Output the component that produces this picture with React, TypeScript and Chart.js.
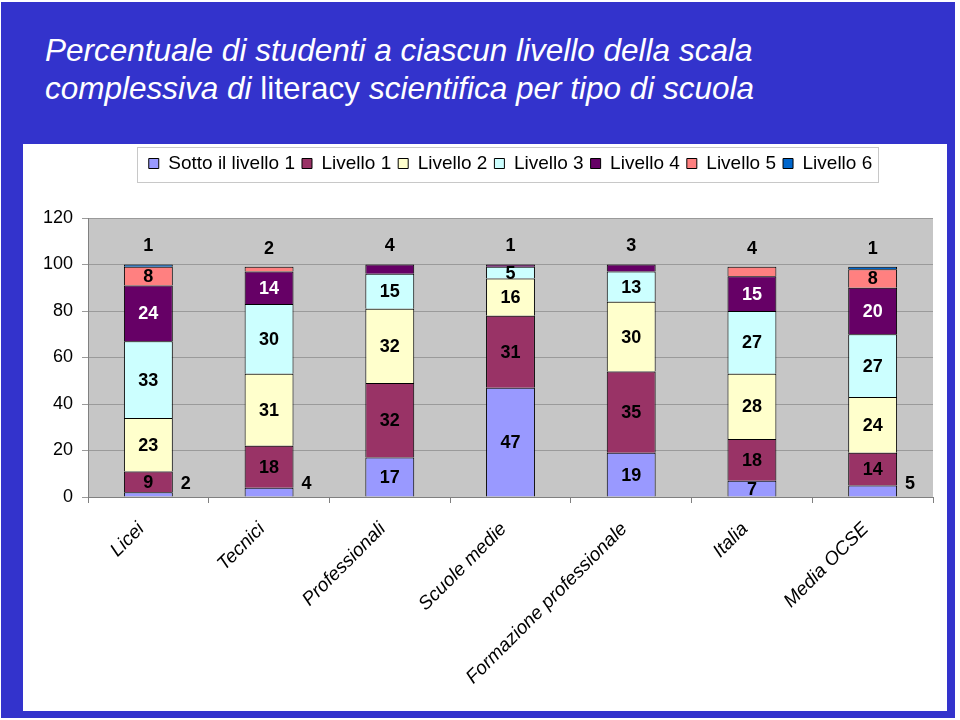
import React, { useEffect, useRef } from "react";
import { Chart, registerables } from "chart.js";

Chart.register(...registerables);

const categories = [
  "Licei",
  "Tecnici",
  "Professionali",
  "Scuole medie",
  "Formazione professionale",
  "Italia",
  "Media OCSE",
];

const seriesNames = [
  "Sotto il livello 1",
  "Livello 1",
  "Livello 2",
  "Livello 3",
  "Livello 4",
  "Livello 5",
  "Livello 6",
];

const sottoLivello1 = [2, 4, 17, 47, 19, 7, 5];
const livello1 = [9, 18, 32, 31, 35, 18, 14];
const livello2 = [23, 31, 32, 16, 30, 28, 24];
const livello3 = [33, 30, 15, 5, 13, 27, 27];
const livello4 = [24, 14, 4, 1, 3, 15, 20];
const livello5 = [8, 2, 0, 0, 0, 4, 8];
const livello6 = [1, 0, 0, 0, 0, 0, 1];

const seriesValues = [sottoLivello1, livello1, livello2, livello3, livello4, livello5, livello6];
const seriesColors = ["#9999FF", "#993366", "#FFFFCC", "#CCFFFF", "#660066", "#FF8080", "#0066CC"];
const labelColors = ["#000", "#000", "#000", "#000", "#fff", "#000", "#fff"];

const FONT = '"Liberation Sans", Arial, Helvetica, sans-serif';

const plotBackground = {
  id: "plotBackground",
  beforeDraw(chart: any) {
    const { ctx, chartArea } = chart;
    ctx.save();
    ctx.fillStyle = "#C6C6C6";
    ctx.fillRect(chartArea.left, chartArea.top, chartArea.right - chartArea.left, chartArea.bottom - chartArea.top);
    ctx.restore();
  },
};

const legendFrame = {
  id: "legendFrame",
  afterDraw(chart: any) {
    const lg = chart.legend;
    if (!lg || !lg.legendHitBoxes || !lg.legendHitBoxes.length) return;
    const hb = lg.legendHitBoxes;
    const last = hb[hb.length - 1];
    const left = Math.round(hb[0].left - 12);
    const right = Math.round(last.left + last.width + 6);
    const ctx = chart.ctx;
    ctx.save();
    ctx.strokeStyle = "#C8C8C8";
    ctx.lineWidth = 1;
    ctx.strokeRect(left + 0.5, Math.round(lg.top) + 0.5, right - left, Math.round(lg.height) - 1);
    ctx.restore();
  },
};

const valueLabels = {
  id: "valueLabels",
  afterDatasetsDraw(chart: any) {
    const ctx = chart.ctx;
    const dsets = chart.data.datasets;
    ctx.save();
    ctx.font = `bold 18px ${FONT}`;
    ctx.textBaseline = "middle";
    for (let i = 0; i < categories.length; i++) {
      let top = -1;
      for (let d = dsets.length - 1; d >= 0; d--) {
        if (dsets[d].data[i] > 0) {
          top = d;
          break;
        }
      }
      for (let d = 0; d < dsets.length; d++) {
        const v = dsets[d].data[i];
        if (!v) continue;
        const el = chart.getDatasetMeta(d).data[i];
        const p = el.getProps(["x", "y", "base", "width"], true);
        const text = String(v);
        if (d === 0 && v <= 5) {
          ctx.fillStyle = "#000";
          ctx.textAlign = "left";
          ctx.fillText(text, p.x + p.width / 2 + 8, p.base - 12);
        } else if (d === top && v <= 5) {
          ctx.fillStyle = "#000";
          ctx.textAlign = "center";
          ctx.fillText(text, p.x, p.y - 18);
        } else {
          ctx.fillStyle = labelColors[d];
          ctx.textAlign = "center";
          ctx.fillText(text, p.x, (p.y + p.base) / 2 + 1);
        }
      }
    }
    ctx.restore();
  },
};

export default function App() {
  const canvasRef = useRef<HTMLCanvasElement | null>(null);

  useEffect(() => {
    if (!canvasRef.current) return;
    const chart = new Chart(canvasRef.current, {
      type: "bar",
      data: {
        labels: categories,
        datasets: seriesNames.map((name, k) => ({
          label: name,
          data: seriesValues[k],
          backgroundColor: seriesColors[k],
          borderColor: "#000000",
          borderWidth: 1,
          barPercentage: 0.405,
          categoryPercentage: 1,
        })),
      },
      options: {
        responsive: false,
        animation: false,
        maintainAspectRatio: false,
        layout: { padding: { top: 3, left: 0, right: 14, bottom: 0 } },
        plugins: {
          legend: {
            display: true,
            position: "top",
            fullSize: false,
            weight: 3000,
            labels: {
              boxWidth: 10,
              boxHeight: 10,
              padding: 7,
              color: "#000",
              font: { family: FONT, size: 19 },
            },
          },
          title: {
            display: true,
            text: "",
            font: { size: 1, lineHeight: 1 },
            padding: { top: 0, bottom: 34 },
          },
          tooltip: { enabled: false },
        },
        scales: {
          x: {
            stacked: true,
            afterFit: (scale: any) => {
              scale.height = 214;
            },
            grid: {
              display: true,
              drawOnChartArea: false,
              drawTicks: true,
              tickLength: 6,
              color: "#808080",
              offset: true,
            },
            border: { display: true, color: "#808080" },
            ticks: {
              autoSkip: false,
              maxRotation: 45,
              minRotation: 45,
              padding: 15,
              labelOffset: -7,
              color: "#000",
              font: { family: FONT, size: 19, style: "italic" },
            },
          },
          y: {
            stacked: true,
            min: 0,
            max: 120,
            afterFit: (scale: any) => {
              scale.width = 65;
            },
            grid: {
              color: "#9A9A9A",
              tickColor: "#9A9A9A",
              tickLength: 6,
            },
            border: { display: true, color: "#808080" },
            ticks: {
              stepSize: 20,
              padding: 9,
              color: "#000",
              font: { family: FONT, size: 18 },
            },
          },
        },
      },
      plugins: [plotBackground, legendFrame, valueLabels],
    });
    return () => chart.destroy();
  }, []);

  return (
    <div
      style={{
        position: "fixed",
        left: 0,
        top: 0,
        width: 960,
        height: 720,
        background: "#ffffff",
        overflow: "hidden",
        fontFamily: FONT,
      }}
    >
      <div
        style={{
          position: "absolute",
          left: 1,
          top: 2,
          width: 954,
          height: 716,
          background: "#3333CC",
        }}
      />
      <div
        style={{
          position: "absolute",
          left: 45,
          top: 31,
          color: "#ffffff",
          fontSize: 31.5,
          lineHeight: "38px",
          fontStyle: "italic",
          whiteSpace: "nowrap",
        }}
      >
        <div>Percentuale di studenti a ciascun livello della scala</div>
        <div>
          complessiva di <span style={{ fontStyle: "normal" }}>literacy</span> scientifica per tipo di scuola
        </div>
      </div>
      <div
        style={{
          position: "absolute",
          left: 23,
          top: 144,
          width: 924,
          height: 567,
          background: "#ffffff",
        }}
      >
        <canvas ref={canvasRef} width={924} height={567} style={{ display: "block", width: 924, height: 567 }} />
      </div>
    </div>
  );
}
